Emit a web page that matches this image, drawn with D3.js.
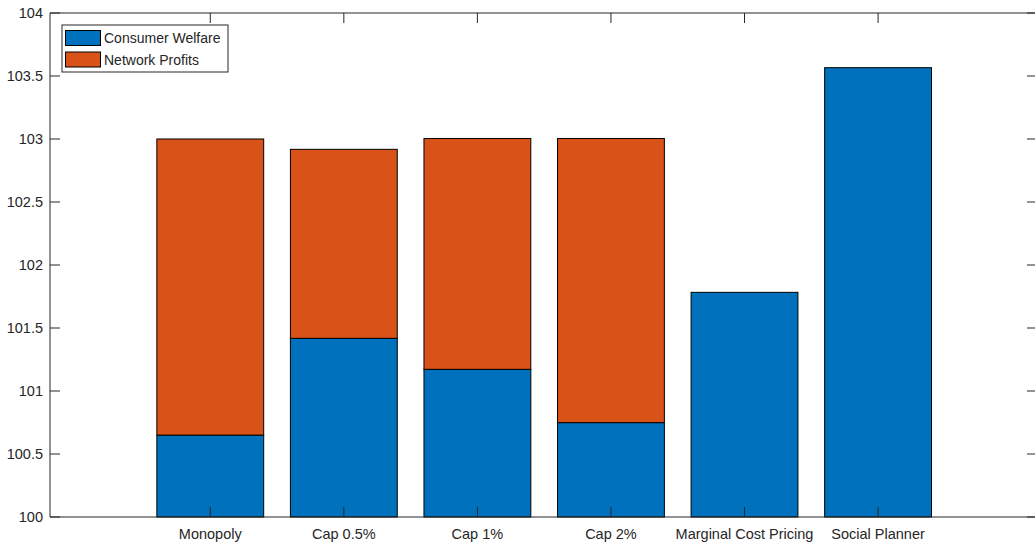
<!DOCTYPE html>
<html>
<head>
<meta charset="utf-8">
<script src="https://cdn.jsdelivr.net/npm/d3@7"></script>
<style>
  body { margin: 0; background: #fff; }
  text { font-family: "Liberation Sans", Arial, sans-serif; fill: #262626; }
</style>
</head>
<body>
<svg width="1035" height="546"></svg>
<script>
var categories = ['Monopoly', 'Cap 0.5%', 'Cap 1%', 'Cap 2%', 'Marginal Cost Pricing', 'Social Planner'];
var consumerWelfare = [100.65, 101.418, 101.172, 100.749, 101.783, 103.566];
var networkProfits = [2.35, 1.50, 1.832, 2.255, 0, 0];
var seriesNames = ['Consumer Welfare', 'Network Profits'];
var seriesColors = ['#0072BD', '#D95319'];
var yTicks = [100, 100.5, 101, 101.5, 102, 102.5, 103, 103.5, 104];

var svg = d3.select("svg");
var PLOT_L = 50, PLOT_R = 1037, PLOT_T = 13, PLOT_B = 517;

// x positions: category i (1-based) sits at 76.4 + 133.6*i
var x = d3.scaleLinear().domain([-0.2, 7.19]).range([PLOT_L, PLOT_R]);
var y = d3.scaleLinear().domain([100, 104]).range([PLOT_B, PLOT_T]);
var barW = x(0.8) - x(0);

// Stacked bars
categories.forEach(function (c, i) {
  var cx = x(i + 1);
  var base = consumerWelfare[i];
  svg.append("rect")
    .attr("x", cx - barW / 2).attr("y", y(base))
    .attr("width", barW).attr("height", y(100) - y(base))
    .attr("fill", seriesColors[0]).attr("stroke", "#000").attr("stroke-width", 1);
  var topV = base + networkProfits[i];
  svg.append("rect")
    .attr("x", cx - barW / 2).attr("y", y(topV))
    .attr("width", barW).attr("height", y(base) - y(topV))
    .attr("fill", seriesColors[1]).attr("stroke", "#000").attr("stroke-width", 1);
});

// Axes box
var axisColor = "#262626";
svg.append("line").attr("x1", PLOT_L).attr("x2", PLOT_R).attr("y1", PLOT_B).attr("y2", PLOT_B)
  .attr("stroke", axisColor);
svg.append("line").attr("x1", PLOT_L).attr("x2", PLOT_R).attr("y1", PLOT_T).attr("y2", PLOT_T)
  .attr("stroke", axisColor);
svg.append("line").attr("x1", PLOT_L).attr("x2", PLOT_L).attr("y1", PLOT_T).attr("y2", PLOT_B)
  .attr("stroke", axisColor);

// Y ticks, left and right, inward
yTicks.forEach(function (t) {
  var ty = y(t);
  svg.append("line").attr("x1", PLOT_L).attr("x2", PLOT_L + 10).attr("y1", ty).attr("y2", ty)
    .attr("stroke", axisColor);
  svg.append("line").attr("x1", PLOT_R - 10).attr("x2", PLOT_R).attr("y1", ty).attr("y2", ty)
    .attr("stroke", axisColor);
  svg.append("text")
    .text(t)
    .attr("x", PLOT_L - 7).attr("y", ty + 5)
    .attr("text-anchor", "end")
    .attr("font-size", 14.5);
});

// X ticks, top and bottom, inward
categories.forEach(function (c, i) {
  var tx = x(i + 1);
  svg.append("line").attr("x1", tx).attr("x2", tx).attr("y1", PLOT_B).attr("y2", PLOT_B - 10)
    .attr("stroke", axisColor);
  svg.append("line").attr("x1", tx).attr("x2", tx).attr("y1", PLOT_T).attr("y2", PLOT_T + 10)
    .attr("stroke", axisColor);
  svg.append("text")
    .text(c)
    .attr("x", tx).attr("y", 539)
    .attr("text-anchor", "middle")
    .attr("font-size", 14.5);
});

// Legend
var lg = svg.append("g").attr("transform", "translate(62,25)");
lg.append("rect").attr("width", 166).attr("height", 47)
  .attr("fill", "#fff").attr("stroke", axisColor).attr("stroke-width", 1);
seriesNames.forEach(function (s, i) {
  lg.append("rect")
    .attr("x", 3.5).attr("y", 5.5 + i * 21.5)
    .attr("width", 35).attr("height", 15)
    .attr("fill", seriesColors[i]).attr("stroke", "#000").attr("stroke-width", 1);
  lg.append("text")
    .text(s)
    .attr("x", 42).attr("y", 18 + i * 21.5)
    .attr("font-size", 14);
});
</script>
</body>
</html>
